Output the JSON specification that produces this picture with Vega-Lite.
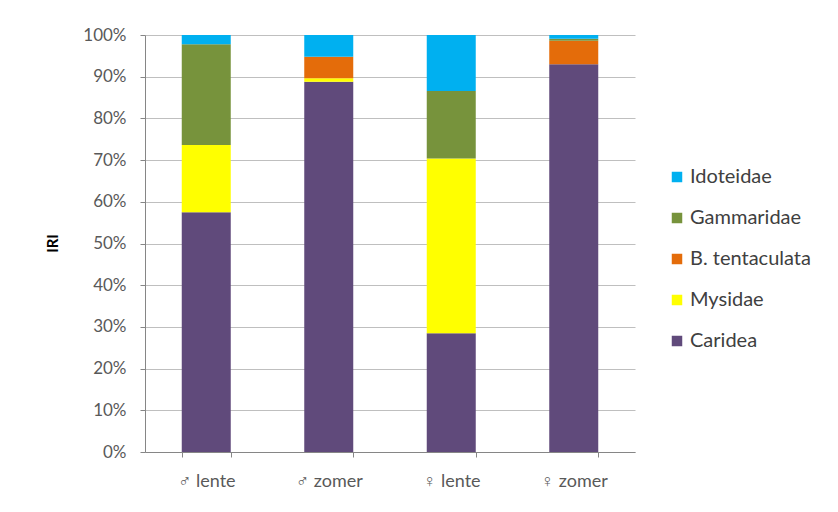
{
  "$schema": "https://vega.github.io/schema/vega-lite/v6.json",
  "autosize": "none",
  "width": 490,
  "height": 417,
  "padding": {"left": 145, "top": 35, "right": 203, "bottom": 60},
  "background": "white",
  "config": {
    "font": "Lato",
    "view": {"stroke": null},
    "axis": {"labelFont": "Lato", "titleFont": "Lato"}
  },
  "data": {
    "values": [
      {"season": "♂ lente", "taxon": "Caridea", "k": 1, "v": 0.575},
      {"season": "♂ lente", "taxon": "Mysidae", "k": 2, "v": 0.161},
      {"season": "♂ lente", "taxon": "B. tentaculata", "k": 3, "v": 0.0},
      {"season": "♂ lente", "taxon": "Gammaridae", "k": 4, "v": 0.242},
      {"season": "♂ lente", "taxon": "Idoteidae", "k": 5, "v": 0.022},
      {"season": "♂ zomer", "taxon": "Caridea", "k": 1, "v": 0.888},
      {"season": "♂ zomer", "taxon": "Mysidae", "k": 2, "v": 0.008},
      {"season": "♂ zomer", "taxon": "B. tentaculata", "k": 3, "v": 0.052},
      {"season": "♂ zomer", "taxon": "Gammaridae", "k": 4, "v": 0.0},
      {"season": "♂ zomer", "taxon": "Idoteidae", "k": 5, "v": 0.052},
      {"season": "♀ lente", "taxon": "Caridea", "k": 1, "v": 0.285},
      {"season": "♀ lente", "taxon": "Mysidae", "k": 2, "v": 0.419},
      {"season": "♀ lente", "taxon": "B. tentaculata", "k": 3, "v": 0.0},
      {"season": "♀ lente", "taxon": "Gammaridae", "k": 4, "v": 0.162},
      {"season": "♀ lente", "taxon": "Idoteidae", "k": 5, "v": 0.134},
      {"season": "♀ zomer", "taxon": "Caridea", "k": 1, "v": 0.930},
      {"season": "♀ zomer", "taxon": "Mysidae", "k": 2, "v": 0.0},
      {"season": "♀ zomer", "taxon": "B. tentaculata", "k": 3, "v": 0.056},
      {"season": "♀ zomer", "taxon": "Gammaridae", "k": 4, "v": 0.005},
      {"season": "♀ zomer", "taxon": "Idoteidae", "k": 5, "v": 0.009}
    ]
  },
  "mark": {"type": "bar"},
  "encoding": {
    "x": {
      "field": "season",
      "type": "nominal",
      "sort": ["♂ lente", "♂ zomer", "♀ lente", "♀ zomer"],
      "scale": {"paddingInner": 0.6, "paddingOuter": 0.3},
      "axis": {
        "title": null,
        "labelAngle": 0,
        "labelFontSize": 18,
        "labelColor": "#595959",
        "labelPadding": 15,
        "tickBand": "extent",
        "tickSize": 5,
        "tickColor": "#868686",
        "domainColor": "#868686",
        "grid": false
      }
    },
    "y": {
      "field": "v",
      "type": "quantitative",
      "stack": "zero",
      "scale": {"domain": [0, 1], "nice": false},
      "axis": {
        "title": "IRI",
        "titleFontSize": 15,
        "titleFontWeight": "bold",
        "titleColor": "#000000",
        "titleX": -93,
        "titleY": 208,
        "titleAngle": -90,
        "titleBaseline": "middle",
        "titleAlign": "center",
        "format": ".0%",
        "values": [0, 0.1, 0.2, 0.3, 0.4, 0.5, 0.6, 0.7, 0.8, 0.9, 1.0],
        "labelOverlap": false,
        "labelFontSize": 17,
        "labelColor": "#595959",
        "labelPadding": 14,
        "tickSize": 5,
        "tickColor": "#868686",
        "domainColor": "#868686",
        "gridColor": "#BFBFBF"
      }
    },
    "color": {
      "field": "taxon",
      "type": "nominal",
      "scale": {
        "domain": ["Idoteidae", "Gammaridae", "B. tentaculata", "Mysidae", "Caridea"],
        "range": ["#00B0F0", "#77933C", "#E46C0A", "#FFFF00", "#604A7B"]
      },
      "legend": {
        "title": null,
        "orient": "none",
        "legendX": 522,
        "legendY": 132,
        "symbolType": "square",
        "symbolSize": 110,
        "symbolStrokeWidth": 0,
        "labelFontSize": 20,
        "labelColor": "#404040",
        "labelOffset": 3,
        "rowPadding": 21
      }
    },
    "order": {"field": "k", "type": "quantitative"}
  }
}
